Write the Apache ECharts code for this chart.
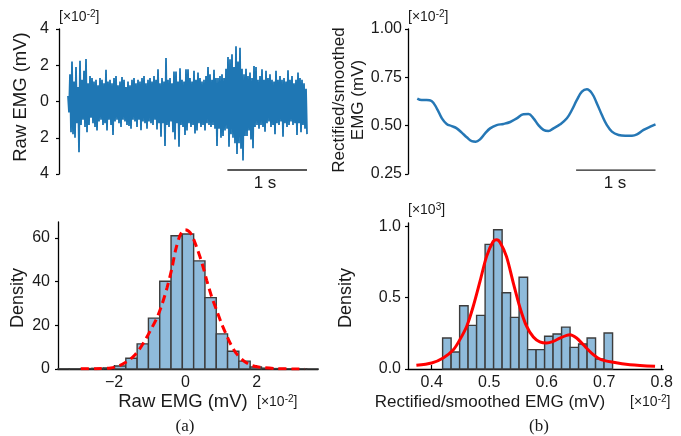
<!DOCTYPE html>
<html><head><meta charset="utf-8">
<script src="https://cdn.jsdelivr.net/npm/echarts@6/dist/echarts.min.js"></script>
<style>html,body{margin:0;padding:0;background:#fff}#c{width:681px;height:436px}</style>
</head><body><div id="c"></div>
<script>
// ---------- Data ----------
// (a, top) raw EMG trace, units of 1e-2 mV, sampled uniformly over 3 s
const rawDuration = 3.0;
const rawEmg = [
 0.3,-0.6,1.5,-1.7,2.2,-1.8,1.1,-2.0,1.9,-1.2,
 0.8,-2.8,2.25,-1.3,1.2,-1.0,1.7,-1.4,2.35,-1.7,
 1.0,-1.3,1.4,-0.9,1.3,-1.2,1.1,-1.4,1.2,-1.6,
 0.9,-1.1,1.3,-1.0,1.2,-1.3,1.0,-1.2,1.75,-1.6,
 1.1,-1.0,1.2,-1.3,1.0,-1.85,1.3,-1.1,1.4,-1.0,
 0.9,-1.2,1.1,-1.4,1.35,-1.0,1.2,-1.1,0.8,-1.3,
 1.1,-1.35,0.9,-1.5,1.2,-1.0,1.3,-1.1,1.0,-1.4,
 1.2,-1.0,1.1,-1.58,1.3,-1.1,1.4,-1.2,1.0,-1.5,
 1.2,-1.1,1.3,-1.2,1.1,-1.3,1.4,-1.0,1.2,-1.55,
 1.78,-1.2,1.0,-1.95,1.3,-1.2,1.1,-2.45,2.4,-1.3,
 1.2,-1.4,1.3,-1.1,1.0,-1.7,1.65,-2.1,1.65,-1.2,
 1.1,-2.5,1.83,-1.3,1.2,-1.4,1.1,-1.85,1.78,-1.6,
 1.78,-1.2,1.3,-1.4,1.1,-1.3,1.7,-1.76,1.2,-1.6,
 1.6,-1.2,1.3,-1.4,1.1,-1.3,1.2,-1.6,1.4,-1.2,
 1.9,-1.3,1.5,-1.4,1.2,-1.3,1.75,-1.5,1.3,-2.45,
 1.3,-1.5,1.4,-2.0,1.5,-1.9,1.3,-1.6,1.8,-1.5,
 2.45,-2.5,2.33,-1.8,2.6,-2.0,1.9,-2.3,3.05,-2.9,
 2.2,-2.3,2.96,-2.6,1.8,-3.25,1.5,-1.9,1.8,-1.9,
 1.4,-1.6,1.6,-2.1,1.3,-2.58,1.96,-1.4,1.9,-1.3,
 1.2,-1.5,1.4,-1.3,1.78,-1.4,1.2,-1.67,1.7,-1.2,
 1.3,-1.1,1.5,-1.4,1.2,-1.3,1.1,-1.8,1.7,-1.2,
 1.2,-1.3,1.4,-1.1,1.2,-1.95,1.3,-1.2,1.1,-1.4,
 1.73,-1.3,1.2,-1.1,1.4,-1.3,1.0,-1.2,1.2,-1.85,
 1.6,-1.2,1.3,-1.7,1.2,-1.3,1.0,-1.5,0.7,-1.8
];
const rawTicks = [-4, -2, 0, 2, 4];

// (b, top) rectified / smoothed EMG
const smoothTime = [0,0.055,0.118,0.18,0.245,0.31,0.37,0.434,0.497,0.56,
 0.623,0.686,0.736,0.79,0.854,0.917,1.0,1.085,1.17,1.253,
 1.337,1.4,1.463,1.526,1.589,1.652,1.715,1.8,1.884,1.947,
 2.01,2.073,2.136,2.2,2.262,2.325,2.388,2.451,2.535,2.619,
 2.704,2.767,2.85,2.934,3.0];
const smoothEmg = [0.64,0.633,0.633,0.628,0.59,0.538,0.509,0.498,0.486,0.464,
 0.44,0.42,0.417,0.429,0.46,0.486,0.503,0.509,0.519,0.538,
 0.559,0.56,0.538,0.503,0.478,0.472,0.486,0.507,0.538,0.581,
 0.633,0.676,0.688,0.667,0.615,0.555,0.503,0.469,0.452,0.448,
 0.448,0.455,0.478,0.495,0.507];
const smoothTicks = [0.25, 0.5, 0.75, 1.0];

// scale bars (seconds)
const scaleBarTime = [2.0, 3.0];

// (a, bottom) histogram of raw EMG
const rawBinEdges = [-3.571,-3.254,-2.937,-2.620,-2.303,-1.986,-1.669,-1.352,-1.035,-0.718,-0.401,-0.084,
 0.233,0.550,0.867,1.184,1.501,1.818,2.135,2.452,2.769,3.086,3.403,3.720];
const rawDensity = [0.1,0.1,0.2,0.3,0.5,1.4,4.9,11.5,23.3,40.2,61.0,61.8,49.5,32.7,16.1,8.1,3.6,0.9,0.4,0.2,0.1,0.1,0.05];
const rawFitX = [-2.93,-2.5,-2.09,-1.86,-1.63,-1.44,-1.30,-1.16,-0.98,-0.79,-0.65,-0.51,-0.37,-0.28,-0.14,0,0.1,0.19,0.33,0.47,0.6,0.74,0.88,1.02,1.16,1.30,1.44,1.63,1.86,2.09,2.56,3.0,3.35];
const rawFitY = [0.1,0.15,0.5,1.5,3.5,6,8.8,12.3,17.6,23.7,29.8,37.4,46.6,54,61.5,63.8,63,61,55.2,48.3,40.6,33,26.8,20.6,15.3,10.5,6.9,3.8,1.6,0.8,0.15,0.05,0];
const rawHistXTicks = [-2, 0, 2];
const rawHistYTicks = [0, 20, 40, 60];

// (b, bottom) histogram of smoothed EMG
const smBinEdges = [0.4190,0.4338,0.4486,0.4633,0.4781,0.4929,0.5077,0.5225,0.5372,0.5520,0.5668,
 0.5816,0.5964,0.6111,0.6259,0.6407,0.6555,0.6703,0.6850,0.6998,0.7146];
const smDensity = [0.217,0.119,0.444,0.306,0.376,0.874,0.977,0.535,0.362,0.643,0.136,0.136,0.23,0.245,0.294,0.152,0.175,0.217,0.07,0.252];
const smFitX = [0.3734,0.4,0.42,0.4377,0.449,0.461,0.4723,0.484,0.4955,0.507,0.513,0.519,0.530,0.542,0.5536,0.565,0.5768,0.588,0.6,0.6115,0.623,0.6348,0.6405,0.652,0.6637,0.678,0.6927,0.716,0.745,0.7885];
const smFitY = [0.026,0.042,0.077,0.135,0.206,0.3,0.44,0.614,0.79,0.895,0.907,0.888,0.79,0.603,0.43,0.3,0.224,0.19,0.182,0.194,0.217,0.236,0.24,0.217,0.17,0.112,0.07,0.047,0.03,0.019];
const smHistXTicks = [0.4, 0.5, 0.6, 0.7, 0.8];
const smHistYTicks = [0, 0.5, 1.0];

// ---------- Chart ----------
const FONT = '"Liberation Sans", Arial, Helvetica, sans-serif';
const TXT = '#1a1a1a';
const BLUE = '#1f77b4';
const chart = echarts.init(document.getElementById('c'), null, {renderer: 'canvas'});

const rawPts = rawEmg.map((v, i) => [i * rawDuration / (rawEmg.length - 1), v]);
const smPts = smoothTime.map((t, i) => [t, smoothEmg[i]]);
const rawBins = rawDensity.map((d, i) => [rawBinEdges[i], rawBinEdges[i + 1], d]);
const smBins = smDensity.map((d, i) => [smBinEdges[i], smBinEdges[i + 1], d]);

function histItem(params, api) {
  const p0 = api.coord([api.value(0), api.value(2)]);
  const p1 = api.coord([api.value(1), 0]);
  return {type: 'rect', shape: {x: p0[0], y: p0[1], width: p1[0] - p0[0], height: p1[1] - p0[1]},
    style: {fill: '#8fbbdb', stroke: '#3c3c3c', lineWidth: 1.4}};
}

const axisLine = {show: true, onZero: false, lineStyle: {color: '#000', width: 1.3}};
const lbl = {color: TXT, fontSize: 16, fontFamily: FONT};

function scaleTxt(x, y, sup) {
  return {type: 'text', x: x, y: y, style: {
    text: '{a|[×10}{s|' + sup + '}{a|]}', fill: TXT, align: 'left', verticalAlign: 'middle',
    rich: {a: {fontSize: 14, fontFamily: FONT, fill: TXT}, s: {fontSize: 10, fontFamily: FONT, fill: TXT, verticalAlign: 'top', padding: [0, 0, 6, 0]}}
  }};
}
function txt(x, y, s, size, rot, fam) {
  return {type: 'text', x: x, y: y, rotation: rot || 0, style: {
    text: s, fill: TXT, font: size + 'px ' + (fam || FONT), align: 'center', verticalAlign: 'middle', lineHeight: 19
  }};
}

const option = {
  animation: false,
  backgroundColor: '#fff',
  grid: [
    {left: 59, top: 29, width: 248, height: 145},
    {left: 408, top: 29, width: 247.5, height: 145},
    {left: 58, top: 222, width: 260, height: 147},
    {left: 408, top: 223, width: 255, height: 146}
  ],
  xAxis: [
    {gridIndex: 0, type: 'value', min: -0.113, max: 3.0, show: false},
    {gridIndex: 1, type: 'value', min: -0.117, max: 3.0, show: false},
    {gridIndex: 2, type: 'value', min: -3.571, max: 3.72, splitLine: {show: false},
      axisLine: axisLine,
      axisTick: {show: true, inside: true, length: 4, lineStyle: {color: '#000', width: 1.2}, customValues: rawHistXTicks},
      axisLabel: Object.assign({}, lbl, {margin: 6, customValues: rawHistXTicks,
        formatter: v => (v < 0 ? '\u2212' + Math.abs(v) : String(v))})},
    {gridIndex: 3, type: 'value', min: 0.3588, max: 0.8023, splitLine: {show: false},
      axisLine: axisLine,
      axisTick: {show: true, inside: true, length: 4, lineStyle: {color: '#000', width: 1.2}, customValues: smHistXTicks},
      axisLabel: Object.assign({}, lbl, {margin: 6, customValues: smHistXTicks, formatter: v => v.toFixed(1)})}
  ],
  yAxis: [
    {gridIndex: 0, type: 'value', min: -4, max: 4, interval: 2, splitLine: {show: false},
      axisLine: axisLine,
      axisTick: {show: true, length: 3, lineStyle: {color: '#000', width: 1.2}, customValues: rawTicks},
      axisLabel: Object.assign({}, lbl, {margin: 10, customValues: rawTicks, formatter: v => String(Math.abs(v))})},
    {gridIndex: 1, type: 'value', min: 0.25, max: 1.0, interval: 0.25, splitLine: {show: false},
      axisLine: axisLine,
      axisTick: {show: true, length: 3, lineStyle: {color: '#000', width: 1.2}, customValues: smoothTicks},
      axisLabel: Object.assign({}, lbl, {margin: 6, customValues: smoothTicks, formatter: v => v.toFixed(2)})},
    {gridIndex: 2, type: 'value', min: 0, max: 67.3, splitLine: {show: false},
      axisLine: axisLine,
      axisTick: {show: true, length: 3, lineStyle: {color: '#000', width: 1.2}, customValues: rawHistYTicks},
      axisLabel: Object.assign({}, lbl, {margin: 8, customValues: rawHistYTicks})},
    {gridIndex: 3, type: 'value', min: 0, max: 1.024, splitLine: {show: false},
      axisLine: axisLine,
      axisTick: {show: true, length: 3, lineStyle: {color: '#000', width: 1.2}, customValues: smHistYTicks},
      axisLabel: Object.assign({}, lbl, {margin: 7, customValues: smHistYTicks, formatter: v => v.toFixed(1)})}
  ],
  series: [
    {type: 'line', xAxisIndex: 0, yAxisIndex: 0, data: rawPts, showSymbol: false,
      lineStyle: {color: BLUE, width: 1.8}, itemStyle: {color: BLUE}},
    {type: 'line', xAxisIndex: 0, yAxisIndex: 0, data: scaleBarTime.map(t => [t, -3.78]), showSymbol: false,
      lineStyle: {color: '#222', width: 1.3}},
    {type: 'line', xAxisIndex: 1, yAxisIndex: 1, data: smPts, showSymbol: false, smooth: 0.4,
      lineStyle: {color: '#2577b5', width: 2.5}},
    {type: 'line', xAxisIndex: 1, yAxisIndex: 1, data: scaleBarTime.map(t => [t, 0.27]), showSymbol: false,
      lineStyle: {color: '#222', width: 1.3}},
    {type: 'custom', xAxisIndex: 2, yAxisIndex: 2, data: rawBins, renderItem: histItem, encode: {x: [0, 1], y: 2}, z: 2},
    {type: 'line', xAxisIndex: 2, yAxisIndex: 2, data: rawFitX.map((x, i) => [x, rawFitY[i]]), showSymbol: false, smooth: 0.3,
      lineStyle: {color: '#ff0000', width: 3, type: [8, 5]}, z: 5},
    {type: 'custom', xAxisIndex: 3, yAxisIndex: 3, data: smBins, renderItem: histItem, encode: {x: [0, 1], y: 2}, z: 2},
    {type: 'line', xAxisIndex: 3, yAxisIndex: 3, data: smFitX.map((x, i) => [x, smFitY[i]]), showSymbol: false, smooth: 0.3,
      lineStyle: {color: '#ff0000', width: 3}, z: 5}
  ],
  graphic: [
    scaleTxt(59, 17, '-2'),
    scaleTxt(408, 17, '-2'),
    scaleTxt(408, 210, '3'),
    scaleTxt(257, 402, '-2'),
    scaleTxt(630, 402, '-2'),
    txt(21, 97, 'Raw EMG (mV)', 18.5, Math.PI / 2),
    txt(349, 100, 'Rectified/smoothed\nEMG (mV)', 17, Math.PI / 2),
    txt(18, 298, 'Density', 18, Math.PI / 2),
    txt(346, 298, 'Density', 18, Math.PI / 2),
    txt(183, 402, 'Raw EMG (mV)', 18.5),
    txt(490, 402, 'Rectified/smoothed EMG (mV)', 17),
    txt(265, 183, '1 s', 17),
    txt(615, 183, '1 s', 17),
    txt(185, 427, '(a)', 17, 0, '"Liberation Serif", "Times New Roman", serif'),
    txt(539, 427, '(b)', 17, 0, '"Liberation Serif", "Times New Roman", serif')
  ]
};
chart.setOption(option);
</script></body></html>
